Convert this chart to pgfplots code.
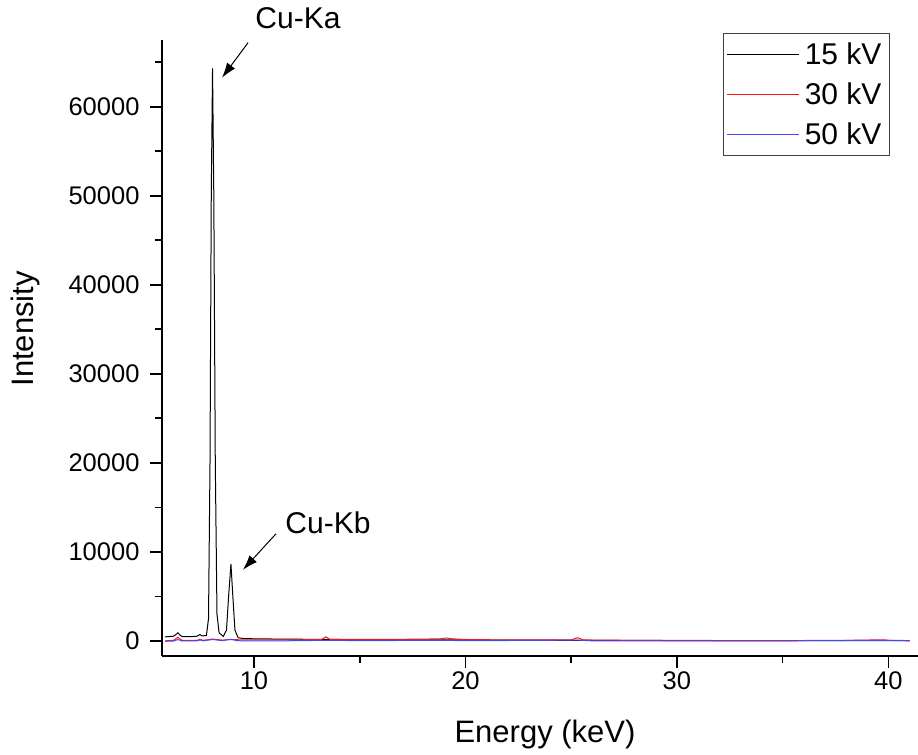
\documentclass[border=0pt]{standalone}
\usepackage{fontspec}
\setmainfont{Liberation Sans}
\usepackage{pgfplots}
\pgfplotsset{compat=1.18}
\usetikzlibrary{arrows.meta}
\definecolor{myblue}{RGB}{70,70,255}
\definecolor{myred}{RGB}{255,20,20}
\begin{document}
\begin{tikzpicture}
\begin{axis}[
  scale only axis, width=756pt, height=616pt,
  xmin=5.65, xmax=41.4, ymin=-1700, ymax=67500,
  axis x line*=bottom, axis y line*=left,
  axis line style={line width=1.8pt},
  xtick={10,20,30,40}, minor xtick={15,25,35},
  ytick={0,10000,20000,30000,40000,50000,60000},
  minor ytick={5000,15000,25000,35000,45000,55000,65000},
  tick align=outside, major tick length=12pt, minor tick length=7pt,
  every tick/.style={line width=1.6pt, black},
  scaled y ticks=false,
  /pgf/number format/assume math mode=true,
  yticklabel style={/pgf/number format/fixed, /pgf/number format/1000 sep={}, xshift=-7pt},
  ticklabel style={font=\fontsize{25.5}{30}\selectfont},
  xlabel={Energy (keV)}, ylabel={Intensity},
  label style={font=\fontsize{31}{37}\selectfont},
  xlabel style={at={(axis description cs:0.5066,-0.1412)}, anchor=base},
  ylabel style={at={(axis description cs:-0.1706,0.531)}, anchor=base},
  legend style={at={(axis description cs:0.963,1.011)}, anchor=north east,
    draw=black!75, line width=1pt, font=\fontsize{30}{36}\selectfont,
    inner xsep=3pt, inner ysep=7pt, row sep=13pt,
    nodes={inner xsep=5pt, inner ysep=2pt}},
  legend cell align=left,
  legend image code/.code={\draw[#1] (0pt,0pt) -- (72pt,0pt);},
  clip=false,
]
\addplot[black, line width=1pt] coordinates {
(5.8,450) (6.0,480) (6.2,520) (6.3,700) (6.4,900) (6.5,650) (6.6,480) (7.0,460)
(7.3,520) (7.45,700) (7.55,550) (7.75,600) (7.85,2500) (7.92,20000) (7.98,50000)
(8.04,64300) (8.10,50000) (8.17,20000) (8.25,3000) (8.35,900) (8.55,500)
(8.70,1200) (8.80,5000) (8.91,8650) (9.00,5000) (9.10,1200) (9.25,350) (9.5,250)
(10,230) (11,200) (12,180) (13,170) (14,150) (15,140) (17,120) (19,120) (20,100)
(22,80) (25,60) (28,40) (32,30) (36,20) (41,10)
};
\addlegendentry{15 kV}
\addplot[myred, line width=1pt] coordinates {
(5.8,0) (6.2,50) (6.4,400) (6.6,50) (7.3,60) (7.45,150) (7.6,60) (8.05,200)
(8.5,80) (8.9,150) (9.5,100) (10,100) (12,110) (13.2,150) (13.4,450) (13.6,150)
(15,160) (17,170) (18.8,220) (19.1,320) (19.4,220) (20,150) (22,100) (25,100)
(25.3,350) (25.6,100) (28,50) (30,40) (35,30) (38,50) (39.8,120) (40,60) (41,30)
};
\addlegendentry{30 kV}
\addplot[myblue, line width=1pt] coordinates {
(5.8,-50) (6.2,-30) (6.4,150) (6.6,-20) (7.3,0) (7.45,100) (7.6,0) (8.05,150)
(8.5,20) (8.9,180) (9.2,20) (9.5,0) (12,10) (13.4,60) (15,20) (19,60) (20,10)
(25.3,80) (26,0) (30,0) (35,0) (39.8,60) (41,0)
};
\addlegendentry{50 kV}
\node[font=\fontsize{30}{36}\selectfont] at (axis cs:12.08,70000) {Cu-Ka};
\draw[-{Latex[length=15pt,width=10pt]}, line width=1pt] (axis cs:9.72,67190) -- (axis cs:8.49,63260);
\node[font=\fontsize{30}{36}\selectfont] at (axis cs:13.5,13260) {Cu-Kb};
\draw[-{Latex[length=15pt,width=10pt]}, line width=1pt] (axis cs:11.04,12020) -- (axis cs:9.48,7980);
\coordinate (bbsw) at (axis description cs:-0.2143,-0.1607);
\coordinate (bbne) at (axis description cs:1.0,1.0649);
\end{axis}
\pgfresetboundingbox
\path[use as bounding box] (bbsw) rectangle (bbne);
\end{tikzpicture}
\end{document}
